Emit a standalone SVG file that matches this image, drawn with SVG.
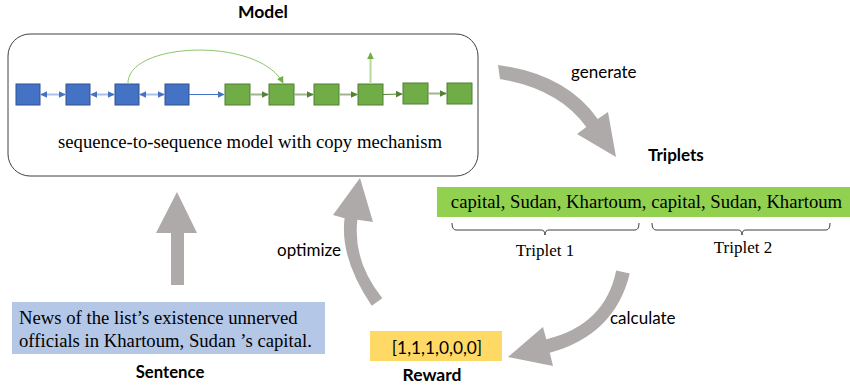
<svg xmlns="http://www.w3.org/2000/svg" width="850" height="389" viewBox="0 0 850 389">
<defs>
<style>
.sans{font-family:Lato,"Open Sans","Liberation Sans",sans-serif;fill:#000}
.bold{font-weight:bold}
.serif{font-family:"Liberation Serif","Times New Roman",serif;fill:#000}
.bsq{fill:#4472C4;stroke:#2F528F;stroke-width:1}
.gsq{fill:#70AD47;stroke:#507E32;stroke-width:1}
.big{fill:#AEAAAA}
.brace{fill:none;stroke:#404040;stroke-width:1}
</style>
<marker id="bh" viewBox="0 0 10 10" refX="9" refY="5" markerWidth="7" markerHeight="7" markerUnits="userSpaceOnUse" orient="auto-start-reverse"><path d="M0,0 L10,5 L0,10 z" fill="#4472C4"/></marker>
<marker id="gh" viewBox="0 0 10 10" refX="9" refY="5" markerWidth="7" markerHeight="7" markerUnits="userSpaceOnUse" orient="auto"><path d="M0,0 L10,5 L0,10 z" fill="#548235"/></marker>
<marker id="lgh" viewBox="0 0 10 10" refX="9" refY="5" markerWidth="7" markerHeight="7" markerUnits="userSpaceOnUse" orient="auto"><path d="M0,0 L10,5 L0,10 z" fill="#70AD47"/></marker>
</defs>

<g id="model">
<rect x="8" y="34" width="470" height="142" rx="22" ry="22" fill="#fff" stroke="#404040" stroke-width="1"/>
<text class="sans bold" x="263" y="18" font-size="17.5" text-anchor="middle">Model</text>
<g id="seq">
<rect class="bsq" x="16" y="84" width="24" height="21"/>
<rect class="bsq" x="66" y="84" width="24" height="21"/>
<rect class="bsq" x="115" y="84" width="24" height="21"/>
<rect class="bsq" x="165" y="84" width="24" height="21"/>
<rect class="gsq" x="225" y="84" width="25" height="21"/>
<rect class="gsq" x="269" y="84" width="25" height="21"/>
<rect class="gsq" x="314" y="84" width="25" height="21"/>
<rect class="gsq" x="358" y="84" width="25" height="21"/>
<rect class="gsq" x="403" y="83" width="25" height="21"/>
<rect class="gsq" x="447" y="83" width="25" height="21"/>
</g>
<g id="seq-links" fill="none">
<line x1="41" y1="94.5" x2="65" y2="94.5" stroke="#A9C0E8" stroke-width="2" marker-start="url(#bh)" marker-end="url(#bh)"/>
<line x1="91" y1="94.5" x2="114" y2="94.5" stroke="#A9C0E8" stroke-width="2" marker-start="url(#bh)" marker-end="url(#bh)"/>
<line x1="140" y1="94.5" x2="164" y2="94.5" stroke="#A9C0E8" stroke-width="2" marker-start="url(#bh)" marker-end="url(#bh)"/>
<line x1="189" y1="94.5" x2="224" y2="94.5" stroke="#4472C4" stroke-width="1" marker-end="url(#bh)"/>
<line x1="250" y1="94.5" x2="268" y2="94.5" stroke="#A1B38A" stroke-width="2" marker-end="url(#gh)"/>
<line x1="294" y1="94.5" x2="313" y2="94.5" stroke="#A1B38A" stroke-width="2" marker-end="url(#gh)"/>
<line x1="339" y1="94.5" x2="357" y2="94.5" stroke="#A1B38A" stroke-width="2" marker-end="url(#gh)"/>
<line x1="383" y1="94.5" x2="402" y2="94" stroke="#548235" stroke-width="1" marker-end="url(#gh)"/>
<line x1="428" y1="93.5" x2="446" y2="93.5" stroke="#A1B38A" stroke-width="2" marker-end="url(#gh)"/>
<path d="M128,84 C126,42 258,36 283,83" stroke="#8CC56A" stroke-width="1" marker-end="url(#lgh)"/>
<line x1="370.5" y1="84" x2="370.5" y2="53" stroke="#B5D99C" stroke-width="2" marker-end="url(#lgh)"/>
</g>
<text class="serif" x="250" y="148" font-size="18.7" text-anchor="middle">sequence-to-sequence model with copy mechanism</text>
</g>

<g id="triplets">
<text class="sans bold" x="648" y="161" font-size="17">Triplets</text>
<rect x="437" y="187" width="413" height="30" fill="#92D050"/>
<text class="serif" x="646.5" y="208" font-size="18.7" text-anchor="middle">capital, Sudan, Khartoum, capital, Sudan, Khartoum</text>
<path class="brace" d="M452,223 Q452,230 456,230 L541,230 Q545,230 545,235 Q545,230 549,230 L635,230 Q639,230 639,223"/>
<path class="brace" d="M652,223 Q652,230 656,230 L738,230 Q742,230 742,235 Q742,230 746,230 L826,230 Q830,230 830,223"/>
<text class="serif" x="545" y="256" font-size="17" text-anchor="middle">Triplet 1</text>
<text class="serif" x="743" y="253" font-size="17" text-anchor="middle">Triplet 2</text>
</g>

<g id="sentence">
<rect x="12" y="302" width="313" height="52" fill="#B4C7E7"/>
<text class="serif" x="19" y="324" font-size="18.7">News of the list’s existence unnerved</text>
<text class="serif" x="19" y="347" font-size="18.7">officials in Khartoum, Sudan ’s capital.</text>
<text class="sans bold" x="170" y="378" font-size="16.7" text-anchor="middle">Sentence</text>
</g>

<g id="reward">
<rect x="370" y="331" width="132" height="30" fill="#FFD966"/>
<text class="sans" x="437" y="354" font-size="17.3" text-anchor="middle">[1,1,1,0,0,0]</text>
<text class="sans bold" x="432" y="381" font-size="17.5" text-anchor="middle">Reward</text>
</g>

<g id="connectors">
<path class="big" d="M498,65 Q566,74 597.7,118.9 L608,112 L616,157 L577,134 L586.3,127.1 Q559,89 500,79 Z"/>
<text class="sans" x="571" y="78" font-size="17">generate</text>
<path class="big" d="M382.3,298.2 Q352.5,261 357.4,219.8 L373,222 L360,178 L333,215 L344.6,218.2 Q339.5,258 371.7,305.8 Z"/>
<text class="sans" x="277" y="256" font-size="17">optimize</text>
<path class="big" d="M616.2,270.5 Q604.9,325.2 546.25,339.2 L543,327 L508,357 L553,366 L549.75,352.8 Q614.7,335 629.8,273.5 Z"/>
<text class="sans" x="610" y="324" font-size="17">calculate</text>
<path class="big" d="M171,285 L171,233 L156,233 L177,192 L197,233 L184,233 L184,285 Z"/>
</g>
</svg>
